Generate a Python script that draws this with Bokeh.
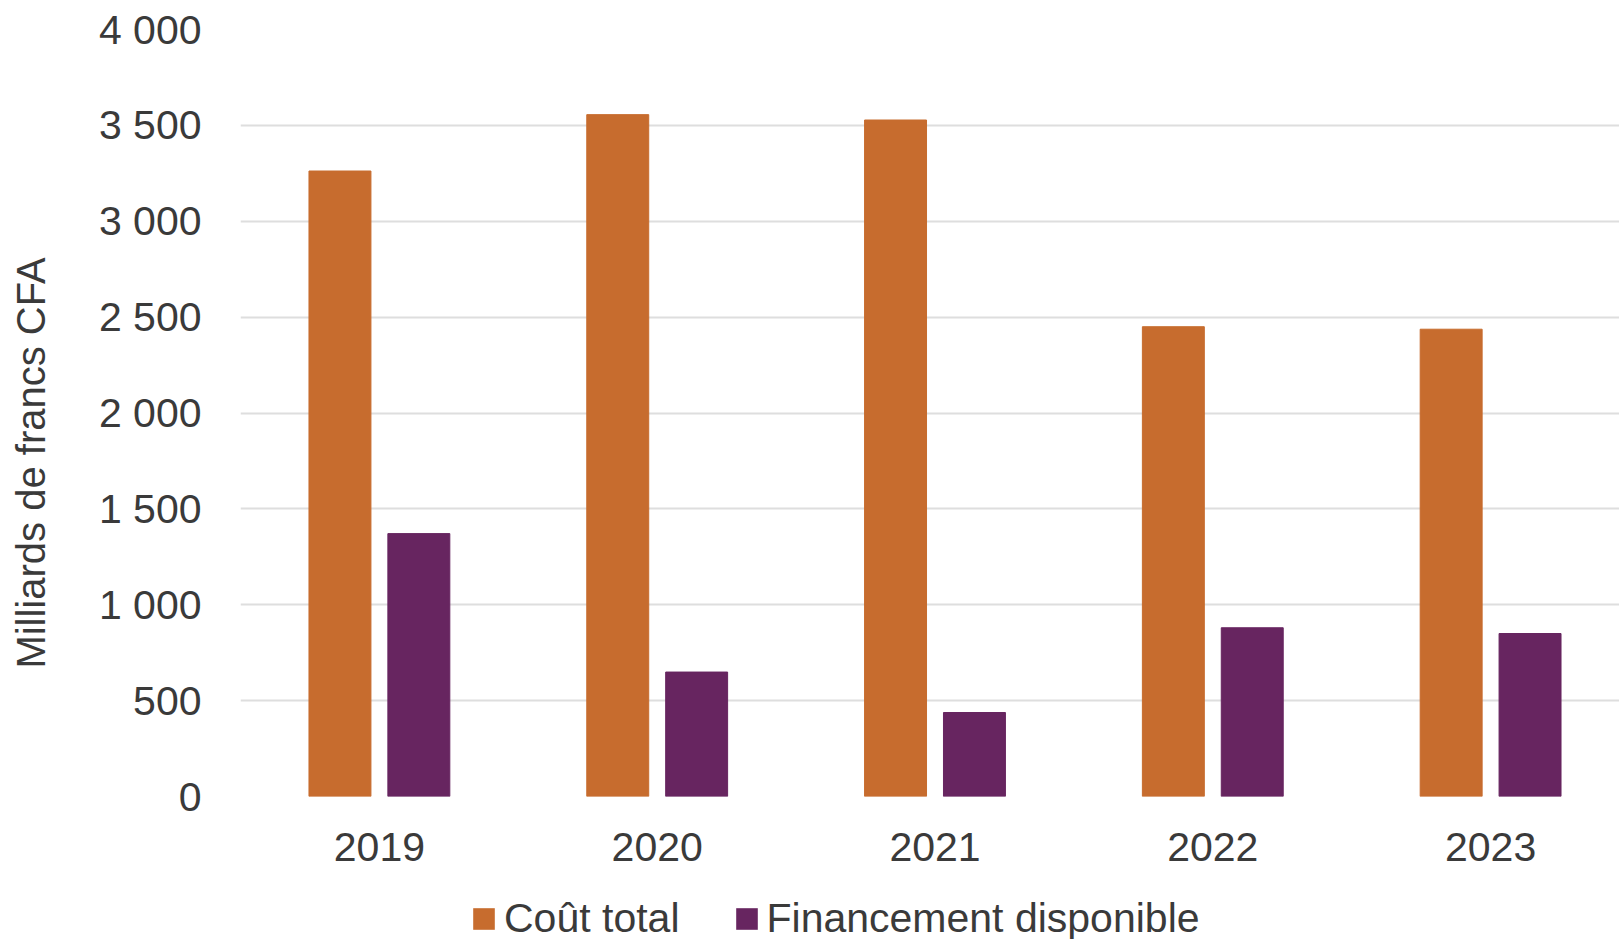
from bokeh.plotting import figure
from bokeh.models import ColumnDataSource, Range1d, FixedTicker, Legend
from bokeh.layouts import column
from bokeh.transform import dodge
from bokeh.embed import file_html
from bokeh.resources import INLINE

years = ["2019", "2020", "2021", "2022", "2023"]
cout_total = [3262, 3556, 3528, 2450, 2437]
financement = [1371, 649, 438, 880, 850]
y_ticks = [0, 500, 1000, 1500, 2000, 2500, 3000, 3500, 4000]
y_tick_labels = ["0", "500", "1 000", "1 500", "2 000", "2 500", "3 000", "3 500", "4 000"]
series_names = ["Coût total", "Financement disponible"]
y_title = "Milliards de francs CFA"

ORANGE = "#C76C2E"
PURPLE = "#672560"
TEXT = "#3a3a3a"
FONT = "Liberation Sans"

src = ColumnDataSource(dict(x=list(range(len(years))), cout=cout_total, fin=financement))
xr = Range1d(-0.5, 4.464)

# main chart
p = figure(width=1619, height=884, output_backend="svg", toolbar_location=None,
           x_range=xr, y_range=Range1d(0, 4000),
           min_border_left=240, min_border_right=0, min_border_top=29, min_border_bottom=88)
p.outline_line_color = None

p.vbar(x=dodge("x", -0.142), top="cout", width=0.223, source=src, color=ORANGE)
p.vbar(x=dodge("x", 0.142), top="fin", width=0.223, source=src, color=PURPLE)

p.xgrid.grid_line_color = None
p.ygrid.grid_line_color = "#dedede"
p.ygrid.grid_line_width = 2
p.ygrid.ticker = FixedTicker(ticks=y_ticks)

p.yaxis.ticker = FixedTicker(ticks=y_ticks)
p.yaxis.major_label_overrides = {t: l for t, l in zip(y_ticks, y_tick_labels)}
p.xaxis.ticker = FixedTicker(ticks=list(range(len(years))))
p.xaxis.major_label_overrides = {i: y for i, y in enumerate(years)}
for ax in (p.xaxis, p.yaxis):
    ax.axis_line_color = None
    ax.major_tick_line_color = None
    ax.minor_tick_line_color = None
    ax.major_tick_out = 0
    ax.major_tick_in = 0
    ax.major_label_text_font = FONT
    ax.major_label_text_font_size = "41px"
    ax.major_label_text_color = TEXT
p.yaxis.major_label_standoff = 39
p.xaxis.major_label_standoff = 36

# axis title, nudged down (trailing no-break spaces) to sit like the original
p.yaxis.axis_label = y_title + "\u00a0" * 9
p.yaxis.axis_label_text_font = FONT
p.yaxis.axis_label_text_font_size = "40px"
p.yaxis.axis_label_text_font_style = "normal"
p.yaxis.axis_label_text_color = TEXT
p.yaxis.axis_label_standoff = 43

# legend strip below the chart (its own bars fall outside its range, only the legend shows)
p2 = figure(width=1619, height=55, output_backend="svg", toolbar_location=None,
            x_range=Range1d(-0.5, 4.464), y_range=Range1d(20000, 30000),
            x_axis_location=None, y_axis_location=None,
            min_border_left=0, min_border_right=0, min_border_top=0, min_border_bottom=0)
p2.outline_line_color = None
p2.grid.grid_line_color = None
l1 = p2.vbar(x=dodge("x", -0.142), top="cout", width=0.223, source=src,
             fill_color=ORANGE, line_color=None)
l2 = p2.vbar(x=dodge("x", 0.142), top="fin", width=0.223, source=src,
             fill_color=PURPLE, line_color=None)

legend = Legend(items=[(series_names[0], [l1]), (series_names[1], [l2])],
                orientation="horizontal", location=(230, -3),
                label_text_font=FONT, label_text_font_size="41px", label_text_color=TEXT,
                glyph_width=27, glyph_height=27, label_standoff=7, spacing=53,
                padding=0, margin=0, border_line_color=None, background_fill_alpha=0)
p2.add_layout(legend)

layout = column(p, p2, spacing=0)
open("out.html", "w").write(file_html(layout, INLINE))
